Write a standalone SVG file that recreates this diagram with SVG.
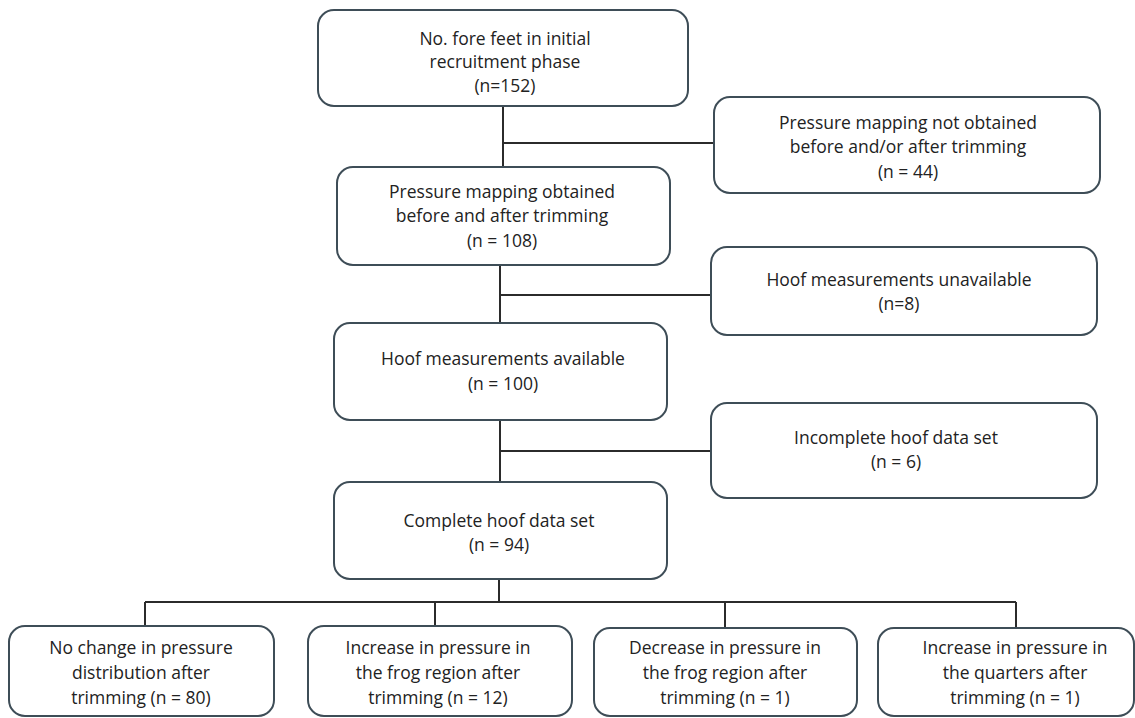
<svg xmlns="http://www.w3.org/2000/svg" width="1135" height="718" viewBox="0 0 1135 718">
<style>
.box{fill:#ffffff;stroke:#3e4d57;stroke-width:2}
.ln{stroke:#2b2b2b;stroke-width:2;fill:none}
text{font-family:"Open Sans","Noto Sans","Liberation Sans",sans-serif;font-size:17.5px;fill:#222222;text-anchor:middle}
</style>
<rect width="1135" height="718" fill="#ffffff"/>
<g id="connectors">
<path class="ln" d="M503 106V167M503 143H714"/>
<path class="ln" d="M500 265V323M500 295H711"/>
<path class="ln" d="M500 420V482M500 451H711"/>
<path class="ln" d="M499 579V602M145 602H1016M145 602V626M435 602V626M725 602V628M1016 602V628"/>
</g>
<g id="n152"><rect class="box" x="318" y="10" width="370" height="96" rx="16"/>
<text x="505" y="45">No. fore feet in initial</text><text x="505" y="68">recruitment phase</text><text x="505" y="92">(n=152)</text></g>
<g id="n108"><rect class="box" x="337" y="167" width="333" height="98" rx="16"/>
<text x="502" y="198">Pressure mapping obtained</text><text x="502" y="222">before and after trimming</text><text x="502" y="247">(n = 108)</text></g>
<g id="n44"><rect class="box" x="714" y="97" width="386" height="96" rx="16"/>
<text x="908" y="129">Pressure mapping not obtained</text><text x="908" y="153">before and/or after trimming</text><text x="908" y="178">(n = 44)</text></g>
<g id="n8"><rect class="box" x="711" y="247" width="386" height="88" rx="16"/>
<text x="899" y="286">Hoof measurements unavailable</text><text x="899" y="310">(n=8)</text></g>
<g id="n100"><rect class="box" x="334" y="323" width="333" height="97" rx="16"/>
<text x="503" y="365">Hoof measurements available</text><text x="503" y="390">(n = 100)</text></g>
<g id="n6"><rect class="box" x="711" y="403" width="386" height="95" rx="16"/>
<text x="896" y="444">Incomplete hoof data set</text><text x="896" y="468">(n = 6)</text></g>
<g id="n94"><rect class="box" x="334" y="482" width="333" height="97" rx="16"/>
<text x="499" y="527">Complete hoof data set</text><text x="499" y="551">(n = 94)</text></g>
<g id="b80"><rect class="box" x="9" y="626" width="265" height="90" rx="16"/>
<text x="141" y="654">No change in pressure</text><text x="141" y="679">distribution after</text><text x="141" y="704">trimming (n = 80)</text></g>
<g id="b12"><rect class="box" x="308" y="626" width="264" height="90" rx="16"/>
<text x="438" y="654">Increase in pressure in</text><text x="438" y="679">the frog region after</text><text x="438" y="704">trimming (n = 12)</text></g>
<g id="b1a"><rect class="box" x="594" y="628" width="263" height="88" rx="16"/>
<text x="725" y="654">Decrease in pressure in</text><text x="725" y="679">the frog region after</text><text x="725" y="704">trimming (n = 1)</text></g>
<g id="b1b"><rect class="box" x="878" y="628" width="256" height="88" rx="16"/>
<text x="1015" y="654">Increase in pressure in</text><text x="1015" y="679">the quarters after</text><text x="1015" y="704">trimming (n = 1)</text></g>
</svg>
